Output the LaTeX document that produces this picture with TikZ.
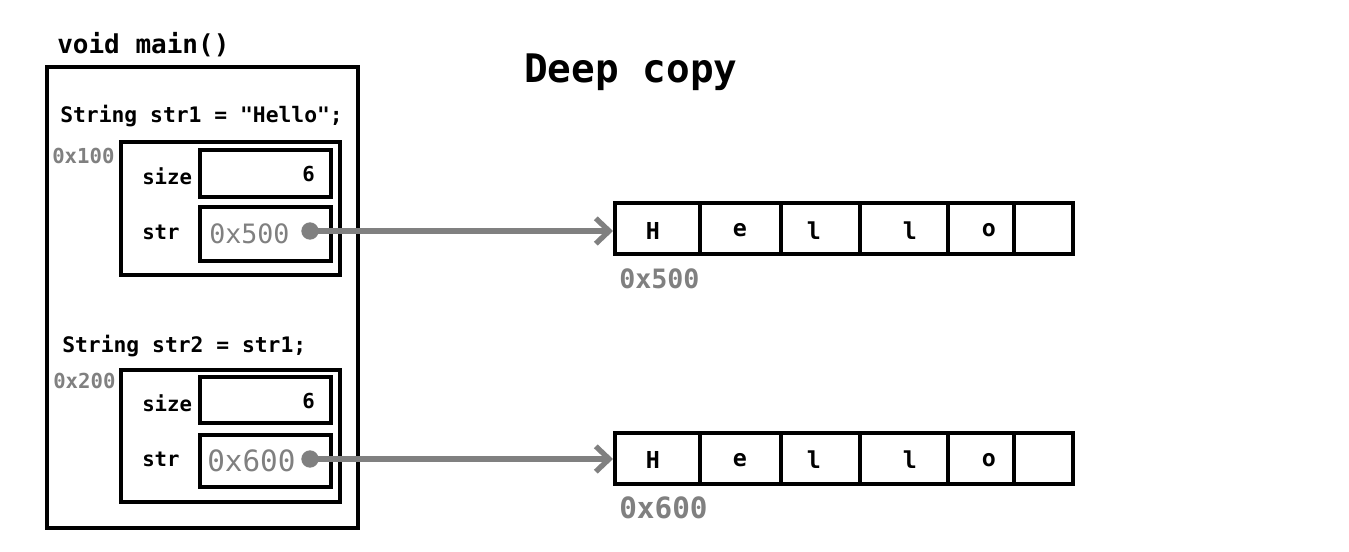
\documentclass[tikz,border=0pt]{standalone}
\usepackage{fontspec}
\setmonofont{DejaVu Sans Mono}
\usetikzlibrary{arrows.meta}
\definecolor{addr}{HTML}{808080}
\tikzset{
  px/.style={x=0.75pt,y=-0.75pt},
  cell/.style={draw=black,line width=3pt,rectangle,inner sep=0pt,anchor=center},
  code/.style={font=\ttfamily\bfseries,inner sep=0pt,anchor=west},
  addrtxt/.style={text=addr,inner sep=0pt,anchor=west},
  ptr/.style={circle,fill=addr,inner sep=0pt,minimum size=13pt},
  link/.style={draw=addr,line width=4pt,line cap=round,
    -{Straight Barb[length=10pt,width=19pt,line width=4pt]}},
  letter/.style={font=\ttfamily\bfseries\fontsize{17.5}{20}\selectfont,inner sep=0pt,anchor=center},
}
\begin{document}
\begin{tikzpicture}[px]
\useasboundingbox (0,0) rectangle (1349,552);
% stack frame of main()
\node[code,font=\ttfamily\bfseries\fontsize{19.5}{22}\selectfont] (fn) at (57,45) {void main()};
\node[cell,minimum width=311*0.75pt,minimum height=461*0.75pt] (frame) at (202.5,297.5) {};
\node[code,font=\ttfamily\bfseries\fontsize{29.5}{34}\selectfont] (title) at (524,72) {Deep copy};

% --- str1 ---
\node[code,font=\ttfamily\bfseries\fontsize{16}{18}\selectfont] (decl1) at (60,116) {String str1 = "Hello";};
\node[addrtxt,font=\ttfamily\bfseries\fontsize{15.5}{18}\selectfont] (a100) at (52,156) {0x100};
\node[cell,minimum width=219*0.75pt,minimum height=133*0.75pt] (s1) at (230.5,208.5) {};
\node[cell,minimum width=131*0.75pt,minimum height=47*0.75pt] (s1size) at (265,173.5) {};
\node[cell,minimum width=131*0.75pt,minimum height=54*0.75pt] (s1str) at (265,234) {};
\node[code,font=\ttfamily\bfseries\fontsize{15.5}{18}\selectfont] at (142,176) {size};
\node[code,font=\ttfamily\bfseries\fontsize{15.5}{18}\selectfont] at (142,232) {str};
\node[code,font=\ttfamily\bfseries\fontsize{15.5}{18}\selectfont] at (302,174) {6};
\node[addrtxt,font=\ttfamily\fontsize{20}{24}\selectfont] at (209,234) {0x500};
\node[ptr] (p1) at (310,231) {};

% --- str2 ---
\node[code,font=\ttfamily\bfseries\fontsize{16}{18}\selectfont] (decl2) at (62,346) {String str2 = str1;};
\node[addrtxt,font=\ttfamily\bfseries\fontsize{15.5}{18}\selectfont] (a200) at (53,381) {0x200};
\node[cell,minimum width=219*0.75pt,minimum height=132*0.75pt] (s2) at (230.5,436) {};
\node[cell,minimum width=131*0.75pt,minimum height=46*0.75pt] (s2size) at (265,400) {};
\node[cell,minimum width=131*0.75pt,minimum height=52*0.75pt] (s2str) at (265,461) {};
\node[code,font=\ttfamily\bfseries\fontsize{15.5}{18}\selectfont] at (142,403) {size};
\node[code,font=\ttfamily\bfseries\fontsize{15.5}{18}\selectfont] at (142,459) {str};
\node[code,font=\ttfamily\bfseries\fontsize{15.5}{18}\selectfont] at (302,401) {6};
\node[addrtxt,font=\ttfamily\fontsize{22}{26}\selectfont] at (207,461) {0x600};
\node[ptr] (p2) at (310,459) {};

% --- heap arrays ---
\foreach \r/\y/\lab/\fs in {1/228.5/0x500/20, 2/458/0x600/22}{
  \node[cell,minimum width=85*0.75pt,minimum height=51*0.75pt] (h\r a) at (657.5,\y) {};
  \node[cell,minimum width=81*0.75pt,minimum height=51*0.75pt] (h\r b) at (740.5,\y) {};
  \node[cell,minimum width=79*0.75pt,minimum height=51*0.75pt] (h\r c) at (820.5,\y) {};
  \node[cell,minimum width=88*0.75pt,minimum height=51*0.75pt] (h\r d) at (904,\y) {};
  \node[cell,minimum width=66*0.75pt,minimum height=51*0.75pt] (h\r e) at (981,\y) {};
  \node[cell,minimum width=59*0.75pt,minimum height=51*0.75pt] (h\r f) at (1043.5,\y) {};
  \node[letter] at (653,\y+2) {H};
  \node[letter] at (740,\y+2) {e};
  \node[letter] at (814,\y+2) {l};
  \node[letter] at (910,\y+2) {l};
  \node[letter] at (989,\y+2) {o};
  \node[addrtxt,font=\ttfamily\bfseries\fontsize{\fs}{24}\selectfont] (hl\r) at (619,\y+50) {\lab};
}

% pointers
\draw[link] (p1.center) -- (p1 -| h1a.west);
\draw[link] (p2.center) -- (p2 -| h2a.west);
\end{tikzpicture}
\end{document}
